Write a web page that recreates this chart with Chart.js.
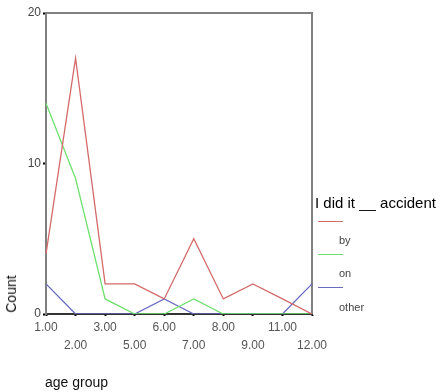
<!DOCTYPE html>
<html><head><meta charset="utf-8">
<script src="https://cdn.jsdelivr.net/npm/chart.js@4"></script>
<style>
html,body{margin:0;padding:0;background:#fff;}
#wrap{position:relative;width:440px;height:392px;font-family:"Liberation Sans",Arial,sans-serif;overflow:hidden;}
canvas{position:absolute;left:0;top:0;}
.t{position:absolute;white-space:nowrap;}
#ytitle{font-size:14px;line-height:14px;color:#111;left:11px;top:294px;transform:translate(-50%,-50%) rotate(-90deg);}
#xtitle{font-size:14px;line-height:14px;color:#111;left:45px;top:375px;}
#ltitle{font-size:15px;line-height:15px;color:#000;left:315px;top:195px;}
.lline{position:absolute;left:318px;width:25px;height:1.4px;}
.llab{position:absolute;left:339px;font-size:11px;line-height:11px;color:#444;}
</style></head><body>
<div id="wrap">
<canvas id="c" width="440" height="392"></canvas>
<div class="t" id="ytitle">Count</div>
<div class="t" id="xtitle">age group</div>
<div class="t" id="ltitle">I did it __ accident</div>
<div id="legend"></div>
</div>
<script>
const ageGroups = ['1.00','2.00','3.00','5.00','6.00','7.00','8.00','9.00','11.00','12.00'];
const byCounts = [4,17,2,2,1,5,1,2,1,0];
const onCounts = [14,9,1,0,0,1,0,0,0,0];
const otherCounts = [2,0,0,0,1,0,0,0,0,2];
const yTicks = [0,10,20];
const seriesNames = ['by','on','other'];
const seriesColors = ['#d46a6a','#6fe06f','#6a6ac0'];
const seriesData = [byCounts, onCounts, otherCounts];

// HTML legend
const leg = document.getElementById('legend');
seriesNames.forEach((n,i)=>{
  const l = document.createElement('div');
  l.className='lline'; l.style.background=seriesColors[i];
  l.style.top=(220.5+i*33.3)+'px';
  leg.appendChild(l);
  const t = document.createElement('div');
  t.className='llab t'; t.textContent=n;
  t.style.top=(234.5+i*33.6)+'px';
  leg.appendChild(t);
});

const boxPlugin = {
  id:'box',
  beforeDatasetsDraw(chart){
    const a = chart.chartArea, c = chart.ctx;
    c.save();
    c.strokeStyle='#808080'; c.lineWidth=2;
    c.beginPath();
    c.moveTo(a.left, a.bottom); c.lineTo(a.left, a.top); c.lineTo(a.right, a.top); c.lineTo(a.right, a.bottom);
    c.stroke();
    c.restore();
  }
};

const font = {family:'"Liberation Sans", Arial, sans-serif', size:12};
new Chart(document.getElementById('c'), {
  type:'line',
  data:{
    labels:ageGroups,
    datasets:seriesNames.map((n,i)=>({label:n,data:seriesData[i],borderColor:seriesColors[i],backgroundColor:seriesColors[i],fill:false}))
  },
  options:{
    responsive:false, animation:false,
    layout:{padding:{top:13,right:128,left:0,bottom:0}},
    plugins:{legend:{display:false},tooltip:{enabled:false}},
    elements:{point:{radius:0},line:{tension:0,borderWidth:1.3}},
    scales:{
      x:{
        type:'category', offset:false, z:1,
        grid:{drawOnChartArea:false, drawTicks:true, tickLength:2, tickColor:'#000', tickWidth:2},
        border:{display:true,color:'#333',width:2},
        ticks:{autoSkip:false,maxRotation:0,minRotation:0,padding:2,color:'#555',
          font:Object.assign({},font,{lineHeight:'18.5px'}),
          callback:(v,i)=> i%2 ? ['',ageGroups[i]] : ageGroups[i]},
        afterFit:(s)=>{s.height=78;}
      },
      y:{
        min:0,max:20,
        afterBuildTicks:(s)=>{s.ticks=yTicks.map(v=>({value:v}));},
        grid:{drawOnChartArea:false,drawTicks:true,tickLength:3,tickColor:'#000',tickWidth:2},
        border:{display:true,color:'#808080',width:2},
        ticks:{padding:2,color:'#444',font:font},
        afterFit:(s)=>{s.width=46;}
      }
    }
  },
  plugins:[boxPlugin]
});
</script>
</body></html>
